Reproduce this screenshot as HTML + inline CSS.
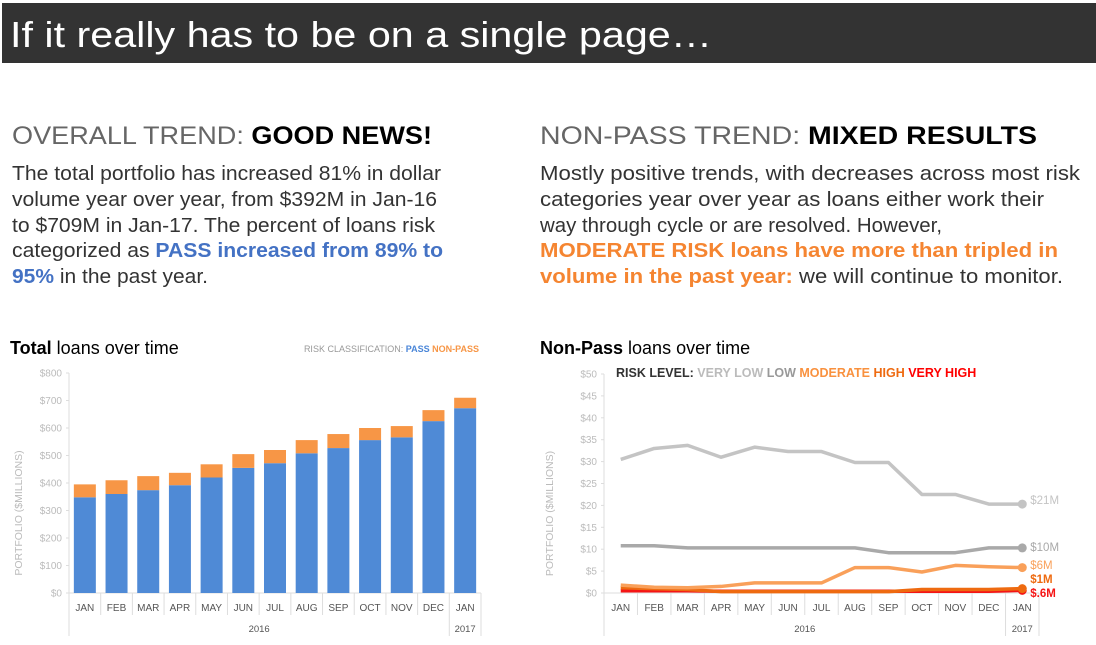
<!DOCTYPE html>
<html><head><meta charset="utf-8"><style>
html,body{margin:0;padding:0;background:#fff;width:1096px;height:645px;overflow:hidden}
svg{display:block;font-family:"Liberation Sans",Arial,sans-serif}
</style></head><body>
<svg id="s" width="1096" height="645" viewBox="0 0 1096 645">
<rect x="2" y="3" width="1094" height="60" fill="#333"/>
<text x="10" y="47" font-size="36" fill="#fff" textLength="702" lengthAdjust="spacingAndGlyphs">If it really has to be on a single page…</text>

<text x="12" y="144" font-size="25" fill="#666" textLength="420" lengthAdjust="spacingAndGlyphs">OVERALL TREND: <tspan fill="#000" font-weight="bold">GOOD NEWS!</tspan></text>
<g font-size="20" fill="#333">
<text x="12" y="180" textLength="429" lengthAdjust="spacingAndGlyphs">The total portfolio has increased 81% in dollar</text>
<text x="12" y="206" textLength="425" lengthAdjust="spacingAndGlyphs">volume year over year, from $392M in Jan-16</text>
<text x="12" y="232" textLength="423" lengthAdjust="spacingAndGlyphs">to $709M in Jan-17. The percent of loans risk</text>
<text x="12" y="257" textLength="431" lengthAdjust="spacingAndGlyphs">categorized as <tspan fill="#4472c4" font-weight="bold">PASS increased from 89% to</tspan></text>
<text x="12" y="283" textLength="196" lengthAdjust="spacingAndGlyphs"><tspan fill="#4472c4" font-weight="bold">95%</tspan> in the past year.</text>
</g>

<text x="540" y="144" font-size="25" fill="#666" textLength="497" lengthAdjust="spacingAndGlyphs">NON-PASS TREND: <tspan fill="#000" font-weight="bold">MIXED RESULTS</tspan></text>
<g font-size="20" fill="#333">
<text x="540" y="180" textLength="540" lengthAdjust="spacingAndGlyphs">Mostly positive trends, with decreases across most risk</text>
<text x="540" y="206" textLength="504" lengthAdjust="spacingAndGlyphs">categories year over year as loans either work their</text>
<text x="540" y="232" textLength="402" lengthAdjust="spacingAndGlyphs">way through cycle or are resolved. However,</text>
<text x="540" y="257" textLength="518" lengthAdjust="spacingAndGlyphs" fill="#f58531" font-weight="bold">MODERATE RISK loans have more than tripled in</text>
<text x="540" y="283" textLength="523" lengthAdjust="spacingAndGlyphs"><tspan fill="#f58531" font-weight="bold">volume in the past year:</tspan> we will continue to monitor.</text>
</g>

<text x="10" y="354" font-size="18" fill="#000"><tspan font-weight="bold">Total</tspan> loans over time</text>
<text x="479" y="352" font-size="9" text-anchor="end" fill="#999">RISK CLASSIFICATION:  <tspan fill="#4a86d8" font-weight="bold">PASS</tspan>  <tspan fill="#f79646" font-weight="bold">NON-PASS</tspan></text>
<g id="left"></g>

<text x="540" y="354" font-size="18" fill="#000"><tspan font-weight="bold">Non-Pass</tspan> loans over time</text>
<text x="616" y="377" font-size="12.5" font-weight="bold" fill="#333">RISK LEVEL:  <tspan fill="#bbb">VERY LOW</tspan>  <tspan fill="#999">LOW</tspan>  <tspan fill="#f9913e">MODERATE</tspan>  <tspan fill="#ee6a10">HIGH</tspan>  <tspan fill="#f00">VERY HIGH</tspan></text>
<g id="right"></g>
</svg>
<script>
const months = ["JAN","FEB","MAR","APR","MAY","JUN","JUL","AUG","SEP","OCT","NOV","DEC","JAN"];
const passValues = [348,360,374,392,420,455,472,508,527,556,566,625,672];
const totalValues = [395,410,425,437,468,505,520,556,578,600,607,665,710];
const leftTicks = [0,100,200,300,400,500,600,700,800];
const rightTicks = [0,5,10,15,20,25,30,35,40,45,50];
const veryLow = [30.5,33,33.7,31,33.3,32.3,32.3,29.8,29.8,22.5,22.5,20.3,20.3];
const low = [10.8,10.8,10.3,10.3,10.3,10.3,10.3,10.3,9.2,9.2,9.2,10.3,10.3];
const moderate = [1.8,1.3,1.2,1.5,2.3,2.3,2.3,5.8,5.8,4.8,6.3,6.0,5.8];
const high = [1.2,1.0,0.8,0.3,0.3,0.3,0.3,0.3,0.3,0.8,0.8,0.8,1.0];
const veryHigh = [0.5,0.5,0.5,0.4,0.4,0.4,0.4,0.4,0.4,0.4,0.4,0.4,0.6];
const endLabels = ["$21M","$10M","$6M","$1M","$.6M"];

const NS="http://www.w3.org/2000/svg";
function mk(parent,tag,attrs,text){const e=document.createElementNS(NS,tag);for(const k in attrs)e.setAttribute(k,attrs[k]);if(text!==undefined)e.textContent=text;parent.appendChild(e);return e;}

function axes(g,x0,x1,y0,y1,max,ticks,fmt,tickX,titleX){
  const n=months.length,bw=(x1-x0)/n;
  const ys=v=>y0-(v/max)*(y0-y1);
  let e=mk(g,"line",{x1:x0,x2:x0,y1:y1,y2:y0,stroke:"#ddd","stroke-width":1});
  
  
  ticks.forEach(t=>{
    let tl=mk(g,"text",{x:tickX,y:ys(t)+3.5,"font-size":10,fill:"#bbb","text-anchor":"end"},fmt(t));
    
    
    mk(g,"line",{x1:x0-3,x2:x0,y1:ys(t),y2:ys(t),stroke:"#ddd"});
  });
  let yt=mk(g,"text",{x:titleX,y:(y0+y1)/2+30,"font-size":10.5,fill:"#bbb","text-anchor":"middle",transform:`rotate(-90 ${titleX} ${(y0+y1)/2+30})`},"PORTFOLIO ($MILLIONS)");
  
  
  mk(g,"line",{x1:x0,x2:x1,y1:y0,y2:y0,stroke:"#ddd"});
  for(let i=0;i<=n;i++){
    const xx=x0+i*bw,long=(i===0||i===n-1||i===n);
    mk(g,"line",{x1:xx,x2:xx,y1:y0,y2:long?636:615,stroke:"#ddd"});
  }
  months.forEach((m,i)=>{
    let t=mk(g,"text",{x:x0+(i+0.5)*bw,y:611,"font-size":10,fill:"#555","text-anchor":"middle"},m);
    
    
  });
  let y1t=mk(g,"text",{x:x0+(n-1)*bw/2,y:632,"font-size":9.5,fill:"#555","text-anchor":"middle"},"2016");
  
  
  let y2t=mk(g,"text",{x:x0+(n-0.5)*bw,y:632,"font-size":9.5,fill:"#555","text-anchor":"middle"},"2017");
  
  
  return {ys,bw};
}

// left chart
(function(){
  const g=document.getElementById("left");
  const x0=69,x1=481,y0=593,y1=373;
  const {ys,bw}=axes(g,x0,x1,y0,y1,800,leftTicks,t=>"$"+t,62,22);
  months.forEach((m,i)=>{
    const bx=x0+i*bw+(bw-22)/2;
    let b=mk(g,"rect",{x:bx,y:ys(passValues[i]),width:22,height:y0-ys(passValues[i]),fill:"#4f8ad6"});
    
    
    let b2=mk(g,"rect",{x:bx,y:ys(totalValues[i]),width:22,height:ys(passValues[i])-ys(totalValues[i]),fill:"#f79646"});
    
    
  });
})();

// right chart
(function(){
  const g=document.getElementById("right");
  const x0=604,x1=1039,y0=593,y1=374;
  const {ys,bw}=axes(g,x0,x1,y0,y1,50,rightTicks,t=>"$"+t,597,553);
  const series=[[veryLow,"#c4c4c4","line-very-low"],[low,"#a9a9a9","line-low"],[moderate,"#f9a05a","line-moderate"],[high,"#ee6a10","line-high"],[veryHigh,"#f51515","line-very-high"]];
  const labelY=[504,551,569,583,597];
  const order=[4,3,2,1,0];
  order.forEach(si=>{
    const [d,c,name]=series[si];
    const pts=d.map((v,i)=>(x0+(i+0.5)*bw)+","+ys(v)).join(" ");
    let p=mk(g,"polyline",{points:pts,fill:"none",stroke:c,"stroke-width":3.5,"stroke-linejoin":"round"});
    
    
    const lx=x0+(d.length-0.5)*bw;
    let dot=mk(g,"circle",{cx:lx,cy:ys(d[d.length-1]),r:4.5,fill:c});
    
    
    let lab=mk(g,"text",{x:lx+8,y:labelY[si],"font-size":11.5,fill:c,"font-weight":si>=3?"bold":"normal"},endLabels[si]);
    
    
  });
})();
</script>
</body></html>
